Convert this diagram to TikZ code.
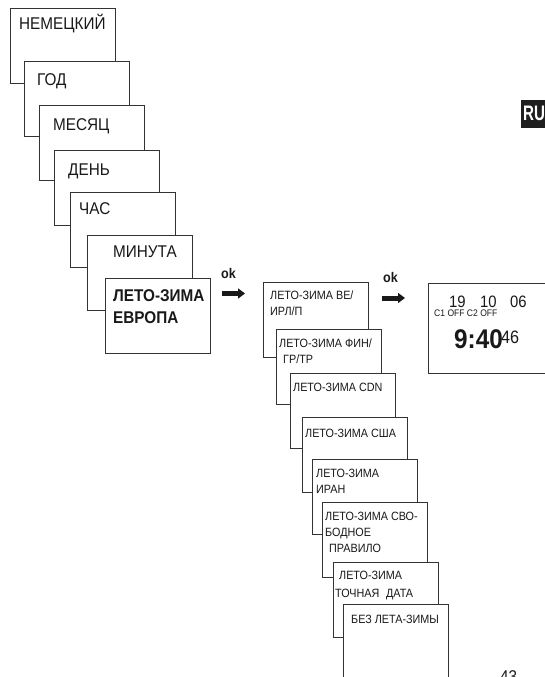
\documentclass[tikz,border=0pt]{standalone}
\usepackage{fontspec}
\setmainfont{Liberation Sans}[FakeStretch=0.9]
\usetikzlibrary{arrows.meta}
\begin{document}
\begin{tikzpicture}[x=1pt,y=-1pt,
  box/.style={draw=black!80, line width=0.8pt, fill=white, anchor=north west,
    minimum width=105pt, minimum height=75pt, inner sep=0pt, outer sep=0pt},
  lab/.style={font=\fontsize{17}{20}\selectfont, anchor=base west, inner sep=0pt, text=black!90},
  blab/.style={font=\fontsize{17}{20}\selectfont\bfseries, anchor=base west, inner sep=0pt, text=black!90},
  slab/.style={font=\fontsize{12}{14}\selectfont, anchor=base west, inner sep=0pt, text=black!90},
  oklab/.style={font=\fontsize{14}{16}\selectfont\bfseries, anchor=base west, inner sep=0pt, text=black!90},
  okarrow/.style={line width=5pt, draw=black!90, -{Triangle[length=7pt,width=10pt]}},
  dig/.style={font=\fontsize{16.5}{18}\selectfont, anchor=base west, inner sep=0pt, text=black!90},
]
\useasboundingbox (0,0) rectangle (545,677);

% left stack
\node[box] (b1) at (10,8) {};
\node[lab] (t1) at (19,30) {НЕМЕЦКИЙ};
\node[box] (b2) at (24,61) {};
\node[lab] (t2) at (37,85) {ГОД};
\node[box] (b3) at (39,105) {};
\node[lab] (t3) at (53,130) {МЕСЯЦ};
\node[box] (b4) at (54,150) {};
\node[lab] (t4) at (68,175) {ДЕНЬ};
\node[box] (b5) at (70,192) {};
\node[lab] (t5) at (79,214) {ЧАС};
\node[box] (b6) at (87,235) {};
\node[lab] (t6) at (113,257) {МИНУТА};
\node[box] (b7) at (105,278) {};
\node[blab] (t7a) at (113,301) {ЛЕТО-ЗИМА};
\node[blab] (t7b) at (113,323) {ЕВРОПА};

% ok arrow 1
\node[oklab] (ok1) at (221,278) {ok};
\coordinate (a1s) at (222,293.5);
\coordinate (a1e) at (245,293.5);
\draw[okarrow] (a1s) -- (a1e);

% right stack
\node[box] (rA) at (263,282) {};
\node[slab] (sA1) at (270,299) {ЛЕТО-ЗИМА ВЕ/};
\node[slab] (sA2) at (270,315) {ИРЛ/П};
\node[box] (rB) at (276,329) {};
\node[slab] (sB1) at (279,347) {ЛЕТО-ЗИМА ФИН/};
\node[slab] (sB2) at (283,363) {ГР/ТР};
\node[box] (rC) at (290,373) {};
\node[slab] (sC1) at (293,391) {ЛЕТО-ЗИМА CDN};
\node[box] (rD) at (302,417) {};
\node[slab] (sD1) at (305,437) {ЛЕТО-ЗИМА США};
\node[box] (rE) at (312,459) {};
\node[slab] (sE1) at (316,477) {ЛЕТО-ЗИМА};
\node[slab] (sE2) at (316,493) {ИРАН};
\node[box] (rF) at (322,502) {};
\node[slab] (sF1) at (325,520) {ЛЕТО-ЗИМА СВО-};
\node[slab] (sF2) at (325,536) {БОДНОЕ};
\node[slab] (sF3) at (329,552) {ПРАВИЛО};
\node[box] (rG) at (333,562) {};
\node[slab] (sG1) at (339,579) {ЛЕТО-ЗИМА};
\node[slab] (sG2) at (335,597) {ТОЧНАЯ\hspace{0.55em}ДАТА};
\node[box, minimum height=100pt] (rH) at (343,604) {};
\node[slab] (sH1) at (351,623) {БЕЗ ЛЕТА-ЗИМЫ};

% ok arrow 2
\node[oklab] (ok2) at (383,282) {ok};
\coordinate (a2s) at (382,298);
\coordinate (a2e) at (405,298);
\draw[okarrow] (a2s) -- (a2e);

% display
\node[box, minimum width=130pt, minimum height=90pt] (disp) at (428,283) {};
\node[dig] (d19) at (449,307) {19};
\node[dig] (d10) at (480,307) {10};
\node[dig] (d06) at (510,307) {06};
\node[font=\fontsize{9.5}{11}\selectfont, anchor=base west, inner sep=0pt, text=black!90] (coff) at (434,316) {C1 OFF C2 OFF};
\node[font=\fontsize{27}{30}\selectfont\bfseries, anchor=base west, inner sep=0pt, text=black!90] (time) at (454,348) {9:40};
\node[font=\fontsize{18}{20}\selectfont, anchor=base west, inner sep=0pt, text=black!90] (sec) at (501,343) {46};

% RU tag
\begin{scope}
\clip (521,100) rectangle (545,128);
\node[fill=black!88, anchor=north west, minimum width=24pt, minimum height=28pt, inner sep=0pt] (rutag) at (521,100) {};
\node[font=\fontsize{21}{24}\selectfont\bfseries, text=white, anchor=base west, inner sep=0pt, xscale=0.8] (ru) at (523,120) {RU};
\end{scope}

% page number
\node[font=\fontsize{17}{20}\selectfont, anchor=base west, inner sep=0pt, text=black!90] (pnum) at (500,682) {43};
\end{tikzpicture}
\end{document}
